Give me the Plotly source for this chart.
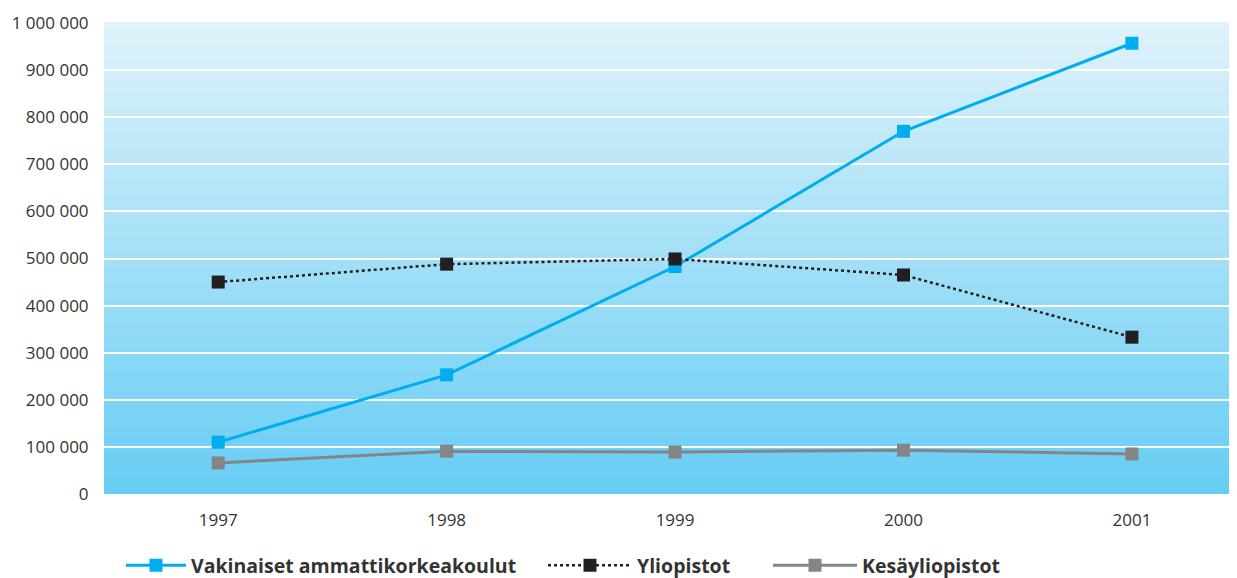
"""Opiskelijamäärät 1997–2001: ammattikorkeakoulut, yliopistot, kesäyliopistot."""

import plotly.graph_objects as go

YEARS = ["1997", "1998", "1999", "2000", "2001"]
AMK = [110000, 253000, 483000, 770000, 957000]
YLIOPISTOT = [450000, 488000, 499000, 465000, 333000]
KESA = [66000, 91000, 89000, 93000, 85000]
Y_TICKS = [0, 100000, 200000, 300000, 400000, 500000, 600000, 700000, 800000, 900000, 1000000]

FONT = "Open Sans, DejaVu Sans, sans-serif"
TEXT = "#333333"
TOP = (0xDF, 0xF2, 0xFA)
BOTTOM = (0x66, 0xCD, 0xF4)
BANDS = 90


def band_color(t: float) -> str:
    r, g, b = (round(a + (c - a) * t) for a, c in zip(BOTTOM, TOP))
    return f"rgb({r},{g},{b})"


fig = go.Figure()

series = [
    ("Vakinaiset ammattikorkeakoulut", AMK, "#00aeef", "solid", 3, "legend"),
    ("Yliopistot", YLIOPISTOT, "#231f20", "3px,3px", 2.5, "legend2"),
    ("Kesäyliopistot", KESA, "#858585", "solid", 3, "legend3"),
]
for name, values, color, dash, width, legend in series:
    fig.add_trace(
        go.Scatter(
            x=YEARS,
            y=values,
            name=name,
            legend=legend,
            showlegend=True,
            mode="lines+markers",
            line={"color": color, "width": width, "dash": dash},
            marker={"symbol": "square", "size": 13, "color": color},
        )
    )

# vertical gradient behind the plot area
for i in range(BANDS):
    fig.add_shape(
        type="rect",
        xref="paper",
        yref="paper",
        x0=0,
        x1=1,
        y0=i / BANDS,
        y1=(i + 1) / BANDS + 0.002,
        fillcolor=band_color((i + 0.5) / BANDS),
        line={"width": 0},
        layer="below",
    )

legend_font = {"size": 19.5, "color": TEXT, "family": FONT, "weight": "bold"}
legend_common = {
    "orientation": "h",
    "xanchor": "left",
    "xref": "container",
    "yref": "container",
    "y": 0.056,
    "yanchor": "top",
    "font": legend_font,
    "bgcolor": "rgba(0,0,0,0)",
}

# page body adds an 8px offset, so the figure is 8px smaller than the window
fig.update_layout(
    width=1229,
    height=570,
    margin={"l": 96, "r": 0, "t": 15, "b": 84, "autoexpand": False},
    paper_bgcolor="white",
    plot_bgcolor=band_color(0),
    separators=", ",
    showlegend=True,
    font={"family": FONT, "color": TEXT, "size": 17},
    legend={**legend_common, "x": 113 / 1229, "itemwidth": 60},
    legend2={**legend_common, "x": 535 / 1229, "itemwidth": 84},
    legend3={**legend_common, "x": 760 / 1229, "itemwidth": 84},
)
fig.update_xaxes(
    type="category",
    range=[-0.5, 4.46],
    automargin=False,
    showgrid=False,
    zeroline=False,
    showline=False,
    ticks="outside",
    ticklen=11,
    tickcolor="rgba(0,0,0,0)",
    tickfont={"size": 17, "color": TEXT},
)
fig.update_yaxes(
    range=[0, 1000000],
    tickvals=Y_TICKS,
    tickformat=",d",
    automargin=False,
    showgrid=True,
    gridcolor="white",
    gridwidth=1.5,
    zeroline=False,
    showline=False,
    ticks="outside",
    ticklen=11,
    tickcolor="rgba(0,0,0,0)",
    tickfont={"size": 17, "color": TEXT},
)

fig.write_html("out.html")
